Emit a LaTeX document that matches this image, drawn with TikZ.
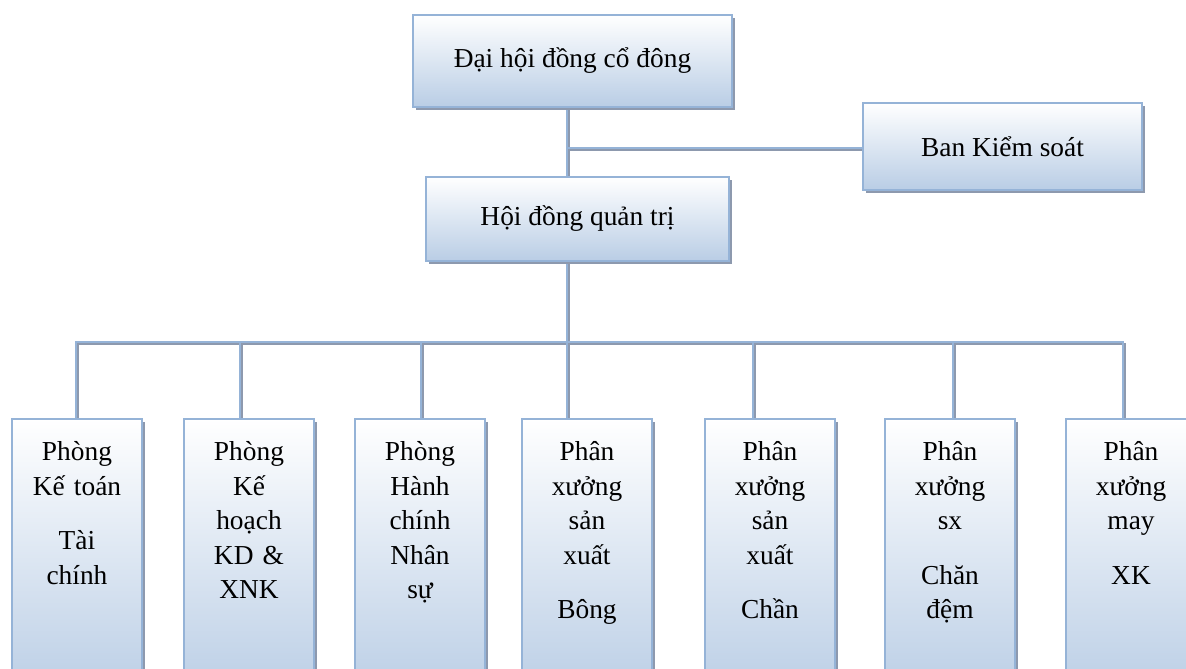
\documentclass[tikz,border=0pt]{standalone}
\usepackage{fontspec}
\setmainfont{Liberation Serif}
\usetikzlibrary{shadows,backgrounds}
\definecolor{boxline}{RGB}{149,179,215}
\definecolor{boxfill}{RGB}{185,205,229}
\definecolor{shadegray}{RGB}{141,153,174}
\begin{document}
\begin{tikzpicture}[
    x=0.5pt, y=-0.5pt,
    font=\fontsize{13.7pt}{17.2pt}\selectfont,
    org/.style={rectangle, draw=boxline, line width=0.9pt, top color=white, bottom color=boxfill,
        drop shadow={shadow xshift=1.5pt, shadow yshift=-1.5pt, fill=shadegray, opacity=1}},
    unit/.style={org, anchor=north, inner sep=0pt, minimum width=65pt, text width=64pt, align=center,
        text height=21pt, text depth=120pt},
    link/.style={draw=boxline, line width=1.3pt},
    linkshade/.style={draw=shadegray, line width=1.3pt, transform canvas={shift={(1pt,-1pt)}}}
]
    \clip (0,0) rectangle (1186,668);

    % Top level
    \node[org, minimum width=159.5pt, minimum height=46pt] (dhcd) at (572.5,61) {Đại hội đồng cổ đông};
    \node[org, minimum width=151.5pt, minimum height=42pt] (hdqt) at (577.5,219) {Hội đồng quản trị};
    \node[org, minimum width=139.5pt, minimum height=43.5pt] (bks) at (1002.5,146.5) {Ban Kiểm soát};

    % Departments
    \node[unit] (p1) at (77,418) {Phòng\\Kế toán\\[10pt]Tài\\chính};
    \node[unit] (p2) at (249,418) {Phòng\\Kế\\hoạch\\KD \&\\XNK};
    \node[unit] (p3) at (420,418) {Phòng\\Hành\\chính\\Nhân\\sự};
    \node[unit] (p4) at (587,418) {Phân\\xưởng\\sản\\xuất\\[10pt]Bông};
    \node[unit] (p5) at (770,418) {Phân\\xưởng\\sản\\xuất\\[10pt]Chần};
    \node[unit] (p6) at (950,418) {Phân\\xưởng\\sx\\[10pt]Chăn\\đệm};
    \node[unit] (p7) at (1131,418) {Phân\\xưởng\\may\\[10pt]XK};

    % Connectors (shadow first, then line)
    \coordinate (spine) at (567,148);
    \coordinate (busL) at (75,342);
    \coordinate (busR) at (1124,342);
    \foreach \n/\dx in {1/-1,2/-9,3/1,4/-20,5/-17,6/3,7/-8}
        \path ([xshift=\dx*0.5pt]p\n.north) coordinate (d\n);
    \begin{scope}[on background layer]
        \foreach \s in {linkshade,link} {
            \draw[\s] (spine |- dhcd.south) -- (spine |- hdqt.north);
            \draw[\s] (spine) -- (spine -| bks.west);
            \draw[\s] (spine |- hdqt.south) -- (spine |- busL);
            \draw[\s] (busL) -- (busR);
            \foreach \n in {1,...,7}
                \draw[\s] (d\n) -- (d\n |- busL);
        }
    \end{scope}
\end{tikzpicture}
\end{document}
